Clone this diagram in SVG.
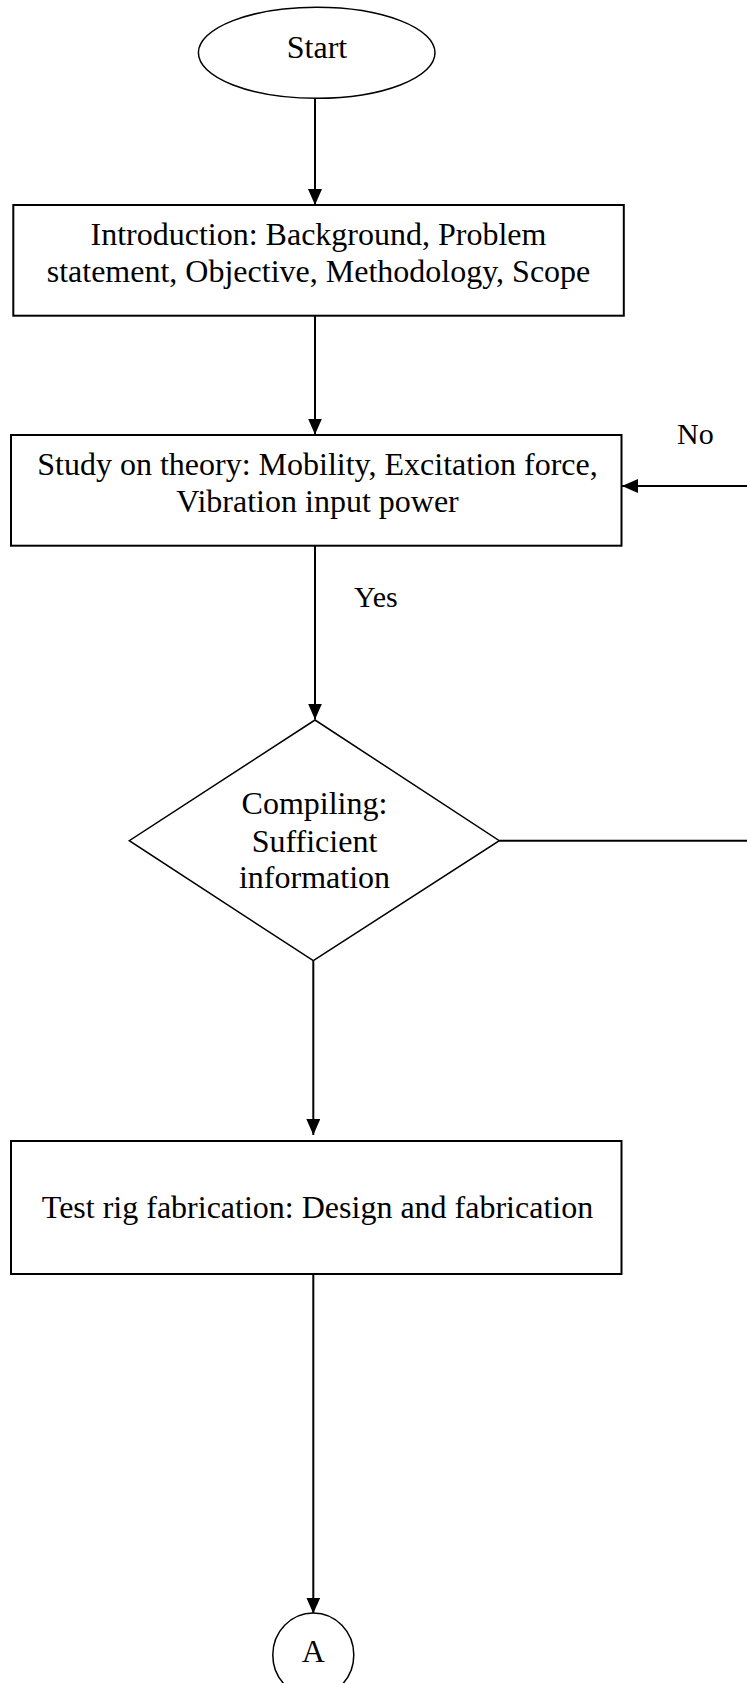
<svg xmlns="http://www.w3.org/2000/svg" width="747" height="1683" viewBox="0 0 747 1683">
<style>
  .box{fill:#fff;stroke:#000;stroke-width:2}
  .thin{fill:#fff;stroke:#000;stroke-width:1.5}
  .t{font-family:"Liberation Serif","Times New Roman",serif;font-size:32px;fill:#000;text-anchor:middle}
  .lbl{font-family:"Liberation Serif","Times New Roman",serif;font-size:30px;fill:#000}
  .c{fill:none;stroke:#000;stroke-width:2}
</style>
<defs>
  <marker id="arr" markerUnits="userSpaceOnUse" markerWidth="16" markerHeight="14" refX="16" refY="7" orient="auto">
    <path d="M0,0 L16,7 L0,14 z" fill="#000"/>
  </marker>
</defs>
<rect width="747" height="1683" fill="#fff"/>
<g id="connectors">
  <line class="c" x1="315" y1="98.5" x2="315" y2="205" marker-end="url(#arr)"/>
  <line class="c" x1="315" y1="316" x2="315" y2="434.5" marker-end="url(#arr)"/>
  <line class="c" x1="315" y1="546" x2="315" y2="719.5" marker-end="url(#arr)"/>
  <line class="c" x1="313.3" y1="961" x2="313.3" y2="1135" marker-end="url(#arr)"/>
  <line class="c" x1="313.3" y1="1274" x2="313.3" y2="1613.5" marker-end="url(#arr)"/>
  <line class="c" x1="499.3" y1="840.7" x2="747" y2="840.7"/>
  <line class="c" x1="747" y1="486" x2="622" y2="486" marker-end="url(#arr)"/>
  <text class="lbl" x="677" y="444.3">No</text>
  <text class="lbl" x="354" y="606.7">Yes</text>
</g>
<g id="start">
  <ellipse class="thin" cx="316.7" cy="52.8" rx="118.3" ry="45.5"/>
  <text class="t" x="317" y="58.3" font-size="31">Start</text>
</g>
<g id="intro">
  <rect class="box" x="13.3" y="205" width="610.5" height="110.7"/>
  <text class="t" x="318.5" y="245">Introduction: Background, Problem</text>
  <text class="t" x="318.5" y="282.3">statement, Objective, Methodology, Scope</text>
</g>
<g id="study">
  <rect class="box" x="11" y="435" width="610.5" height="110.7"/>
  <text class="t" x="317.5" y="475">Study on theory: Mobility, Excitation force,</text>
  <text class="t" x="317.5" y="512.3">Vibration input power</text>
</g>
<g id="compiling">
  <polygon class="thin" points="315,720 499.3,840.7 313.3,960.7 129.3,840.7"/>
  <text class="t" x="314.5" y="814">Compiling:</text>
  <text class="t" x="314.5" y="851.5">Sufficient</text>
  <text class="t" x="314.5" y="888.3">information</text>
</g>
<g id="testrig">
  <rect class="box" x="11" y="1141" width="610.5" height="133"/>
  <text class="t" x="317.5" y="1218.3">Test rig fabrication: Design and fabrication</text>
</g>
<g id="connectorA">
  <ellipse class="thin" cx="313.3" cy="1655" rx="40.5" ry="42"/>
  <text class="t" x="313.3" y="1661.7" font-size="30">A</text>
</g>
</svg>
